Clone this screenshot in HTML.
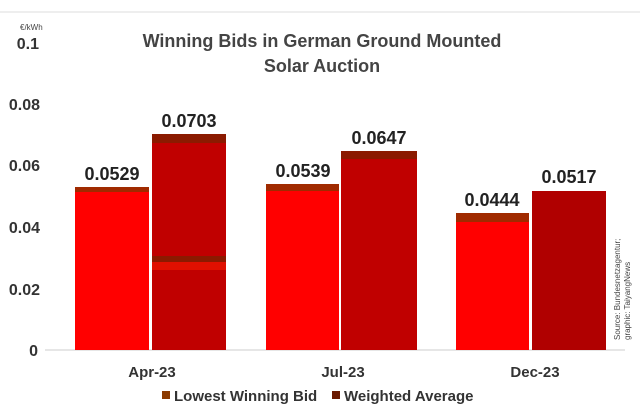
<!DOCTYPE html><html><head><style>body{margin:0;width:640px;height:409px;background:#fff;overflow:hidden;font-family:"Liberation Sans",sans-serif}</style></head><body>
<svg width="640" height="409" xmlns="http://www.w3.org/2000/svg" font-family="Liberation Sans, sans-serif">
<line x1="0" y1="12" x2="640" y2="12" stroke="#ddd"/>
<text x="20" y="30" font-size="8" fill="#444">€/kWh</text>
<g font-size="16" font-weight="bold" fill="#333" text-anchor="end">
<text x="39" y="49">0.1</text><text x="40" y="110">0.08</text><text x="40" y="171">0.06</text><text x="40" y="233">0.04</text><text x="40" y="295">0.02</text><text x="38" y="356">0</text></g>
<g font-size="18" font-weight="bold" fill="#444" text-anchor="middle"><text x="322" y="47">Winning Bids in German Ground Mounted</text><text x="322" y="72">Solar Auction</text></g>
<line x1="45" y1="350" x2="625" y2="350" stroke="#ccc"/>
<g>
<rect x="75" y="187" width="74" height="163" fill="#ff0000"/><rect x="75" y="187" width="74" height="5" fill="#a02a00"/>
<rect x="152" y="134" width="74" height="216" fill="#c00000"/><rect x="152" y="134" width="74" height="9" fill="#8b1a00"/><rect x="152" y="256" width="74" height="6" fill="#8b1a00"/><rect x="152" y="262" width="74" height="8" fill="#e01000"/>
<rect x="266" y="184" width="73" height="166" fill="#ff0000"/><rect x="266" y="184" width="73" height="7" fill="#a02a00"/>
<rect x="341" y="151" width="76" height="199" fill="#c00000"/><rect x="341" y="151" width="76" height="8" fill="#8b1a00"/>
<rect x="456" y="213" width="73" height="137" fill="#ff0000"/><rect x="456" y="213" width="73" height="9" fill="#a02a00"/>
<rect x="532" y="191" width="74" height="159" fill="#b00000"/>
</g>
<g font-size="18" font-weight="bold" fill="#222" text-anchor="middle">
<text x="112" y="180">0.0529</text><text x="189" y="127">0.0703</text><text x="303" y="177">0.0539</text><text x="379" y="144">0.0647</text><text x="492" y="206">0.0444</text><text x="569" y="183">0.0517</text></g>
<g font-size="15" font-weight="bold" fill="#333" text-anchor="middle"><text x="152" y="377">Apr-23</text><text x="343" y="377">Jul-23</text><text x="535" y="377">Dec-23</text></g>
<rect x="162" y="391" width="8" height="8" fill="#8b3a00"/><text x="174" y="401" font-size="15" font-weight="bold" fill="#333">Lowest Winning Bid</text>
<rect x="332" y="391" width="8" height="8" fill="#6b1a00"/><text x="344" y="401" font-size="15" font-weight="bold" fill="#333">Weighted Average</text>
<g font-size="8" fill="#444"><text transform="translate(620,340) rotate(-90)">Source: Bundesnetzagentur;</text><text transform="translate(630,340) rotate(-90)">graphic: TaiyangNews</text></g>
</svg></body></html>
